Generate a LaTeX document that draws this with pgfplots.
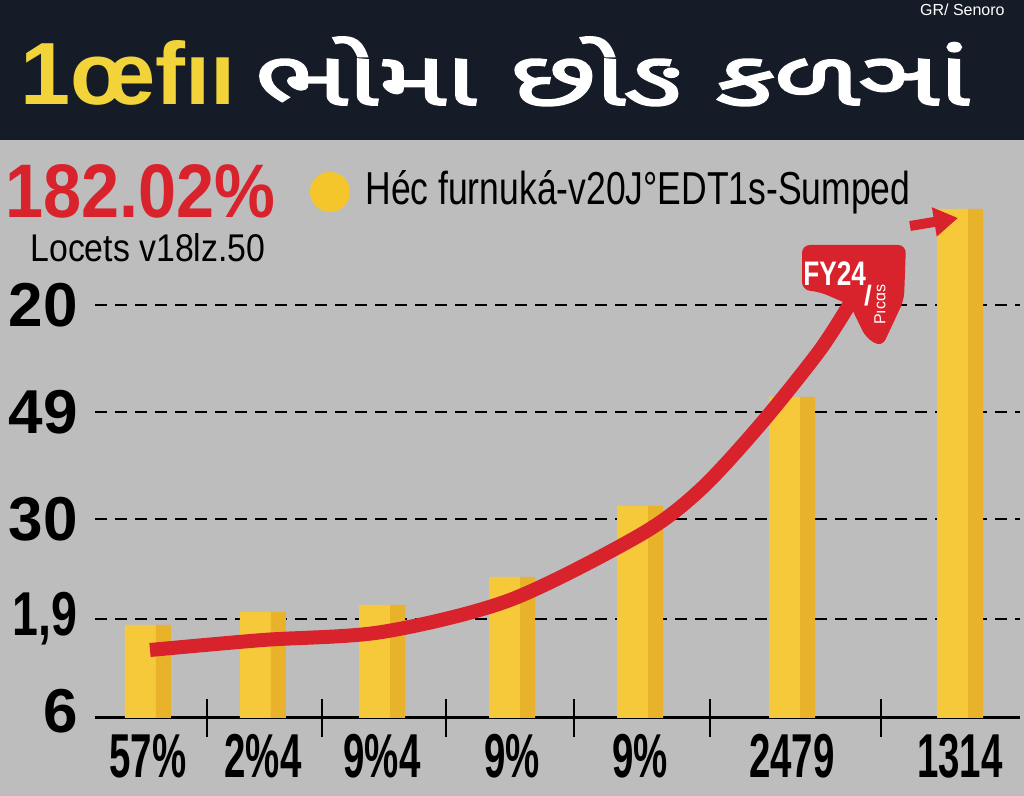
\documentclass[border=0pt]{standalone}
\usepackage{pgfplots}
\pgfplotsset{compat=1.18}
\usepackage{pgfplotstable}
\usepackage{graphicx}
\usepackage{fontspec}
\setmainfont{Liberation Sans}
\newfontfamily\guj[Script=Gujarati,FakeBold=2.5]{Noto Sans Gujarati UI}
\usetikzlibrary{arrows.meta}
\definecolor{bggray}{HTML}{BDBDBD}
\definecolor{navy}{HTML}{151C27}
\definecolor{titleyellow}{HTML}{F2D43A}
\definecolor{myred}{HTML}{D8232D}
\definecolor{barfront}{HTML}{F6C93A}
\definecolor{barside}{HTML}{E8B22A}
\definecolor{legyellow}{HTML}{F5C62B}
\newcommand{\xl}[1]{\scalebox{0.62}[1]{#1}}

\pgfplotstableread{
x y
148 93
263 106
382 113
512 141
640 212
792 321
960 509
}\bars
\pgfplotstableread{
x y
150 68
263 78
382 86
510 118
640 183
700 228
760 293
820 368
852 418
}\trend

\begin{document}
\begin{tikzpicture}[x=0.5pt,y=0.5pt]
\useasboundingbox (0,-78) rectangle (1024,718);
\fill[bggray] (0,-78) rectangle (1024,718);
\fill[navy] (0,578) rectangle (1024,718);
\node[anchor=base west,inner sep=0pt] at (20,613) {\resizebox{107.5pt}{32pt}{\color{titleyellow}\bfseries 1œfıı}};
\node[anchor=base west,inner sep=0pt] at (255,613) {\resizebox{357pt}{34pt}{\color{white}\guj ભોમા છોઙ કળઞાં}};
\node[anchor=north east,inner sep=0pt] at (1005,714) {\color{white}\fontsize{8}{8}\selectfont GR/ Senoro};
\node[anchor=base west,inner sep=0pt] at (5,500) {\resizebox{135pt}{26.5pt}{\color{myred}\bfseries 182.02\%}};
\node[anchor=base west,inner sep=0pt] at (30,456) {\resizebox{117.5pt}{14pt}{Locets v18lz.50}};
\fill[legyellow] (330,526) circle[radius=10pt];
\node[anchor=base west,inner sep=0pt] at (365,513) {\resizebox{272.5pt}{17pt}{Héc furnuká-v20J°EDT1s-Sumped}};
\begin{axis}[
  at={(95,0)}, anchor=south west,
  scale only axis, width=462.5pt, height=260pt,
  xmin=95, xmax=1020, ymin=0, ymax=520,
  clip=false,
  axis x line=bottom, axis y line=left,
  y axis line style={draw=none},
  x axis line style={line width=1.5pt,-},
  xtick={148,263,382,512,640,792,960},
  xticklabels={\xl{57\%},\xl{2\%4},\xl{9\%4},\xl{9\%},\xl{9\%},\xl{2479},\xl{1314}},
  ytick={99,199,306,413},
  yticklabels={{\scalebox{0.75}[1]{1,9}},30,49,20},
  extra y ticks={0},
  extra y tick labels={\raisebox{7pt}{6}},
  extra y tick style={grid=none},
  extra x ticks={207,322,446,574,710,881},
  extra x tick labels={},
  extra x tick style={major tick length=19pt, tick align=center, tick style={line width=1pt,black}},
  major tick length=0pt,
  ymajorgrids,
  grid style={black, line width=1pt, dash pattern=on 6pt off 4pt},
  yticklabel style={font=\fontsize{31}{31}\selectfont\bfseries, anchor=east, inner sep=0pt, xshift=-8.5pt},
  xticklabel style={font=\fontsize{31}{31}\selectfont\bfseries, anchor=north, inner sep=0pt, yshift=-8pt},
]
\addplot[ybar, bar width=31, bar shift=-7.5, fill=barfront, draw=none] table {\bars};
\addplot[ybar, bar width=15, bar shift=15.5, fill=barside, draw=none] table {\bars};
\addplot[myred, line width=7pt, smooth] table {\trend};
\fill[myred, rounded corners=4pt] (axis cs:802,473) -- (axis cs:906,473) -- (axis cs:904,418) -- (axis cs:882,371) -- (axis cs:866,380) -- (axis cs:850,413) -- (axis cs:820,426) -- (axis cs:802,428) -- cycle;
\node[anchor=base west,inner sep=0pt,white] at (axis cs:803,432) {\scalebox{0.77}[1]{\fontsize{17}{17}\selectfont\bfseries FY24}};
\node[inner sep=0pt,white] at (axis cs:868,422) {\fontsize{14}{14}\selectfont\bfseries /};
\node[inner sep=0pt,white,rotate=90] at (axis cs:880,413) {\fontsize{8}{8}\selectfont Pıcɑs};
\draw[myred, line width=5pt, -{Triangle[length=12pt,width=14pt]}] (axis cs:910,492) -- (axis cs:958,500);
\end{axis}
\end{tikzpicture}
\end{document}
